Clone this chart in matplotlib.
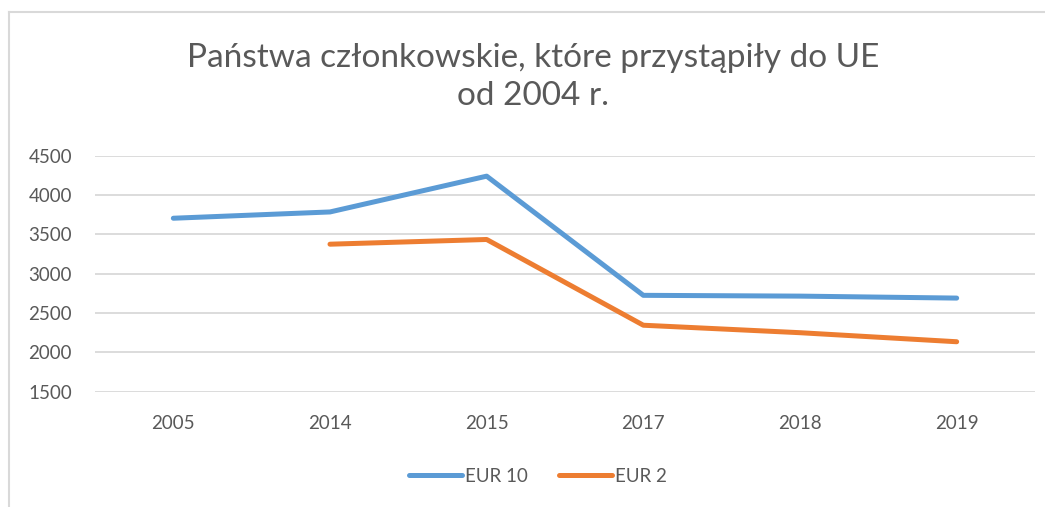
import matplotlib
matplotlib.use("Agg")
import matplotlib.pyplot as plt
from matplotlib.lines import Line2D

categories = ["2005", "2014", "2015", "2017", "2018", "2019"]
eur10 = [3705, 3785, 4240, 2725, 2715, 2690]
eur2 = [None, 3375, 3435, 2345, 2250, 2135]
yticks = [1500, 2000, 2500, 3000, 3500, 4000, 4500]
title = "Państwa członkowskie, które przystąpiły do UE\nod 2004 r."

plt.rcParams['font.family'] = ['Lato', 'DejaVu Sans']
txt = "#595959"

fig = plt.figure(figsize=(10.45, 5.07), dpi=100)
fig.patch.set_facecolor("white")

# chart border (left and top visible)
fig.add_artist(Line2D([9/1045, 9/1045], [0, 1-12/507], transform=fig.transFigure, color="#D9D9D9", lw=1.5))
fig.add_artist(Line2D([9/1045, 1], [1-12/507, 1-12/507], transform=fig.transFigure, color="#D9D9D9", lw=1.5))

ax = fig.add_axes([95/1045, 1-391.7/507, (1035-95)/1045, (391.7-155.7)/507])
x = list(range(len(categories)))
ax.plot(x, eur10, color="#5B9BD5", lw=3.6, solid_capstyle="round", solid_joinstyle="round", label="EUR 10")
x2 = [i for i, v in zip(x, eur2) if v is not None]
y2 = [v for v in eur2 if v is not None]
ax.plot(x2, y2, color="#ED7D31", lw=3.6, solid_capstyle="round", solid_joinstyle="round", label="EUR 2")

ax.set_xlim(-0.5, len(categories)-0.5)
ax.set_ylim(1500, 4500)
ax.set_yticks(yticks)
ax.set_yticklabels([str(v) for v in yticks])
ax.set_xticks(x)
ax.set_xticklabels(categories)
ax.grid(axis="y", color="#D9D9D9", lw=1.3)
ax.set_axisbelow(True)
for s in ax.spines.values():
    s.set_visible(False)
ax.tick_params(axis="both", length=0, labelsize=13.5, colors=txt)
ax.tick_params(axis="y", pad=16.5)
ax.tick_params(axis="x", pad=16.5)

fig.text(533/1045, 1-77/507, title, ha="center", va="center", fontsize=24, color=txt, linespacing=1.3)

leg = fig.legend(loc="center", bbox_to_anchor=(538/1045, 1-476/507), ncol=2, frameon=False,
                 fontsize=13.5, handlelength=2.8, handletextpad=0.15, columnspacing=1.7)
for t in leg.get_texts():
    t.set_color(txt)

fig.savefig("out.png", dpi=100, facecolor="white")
